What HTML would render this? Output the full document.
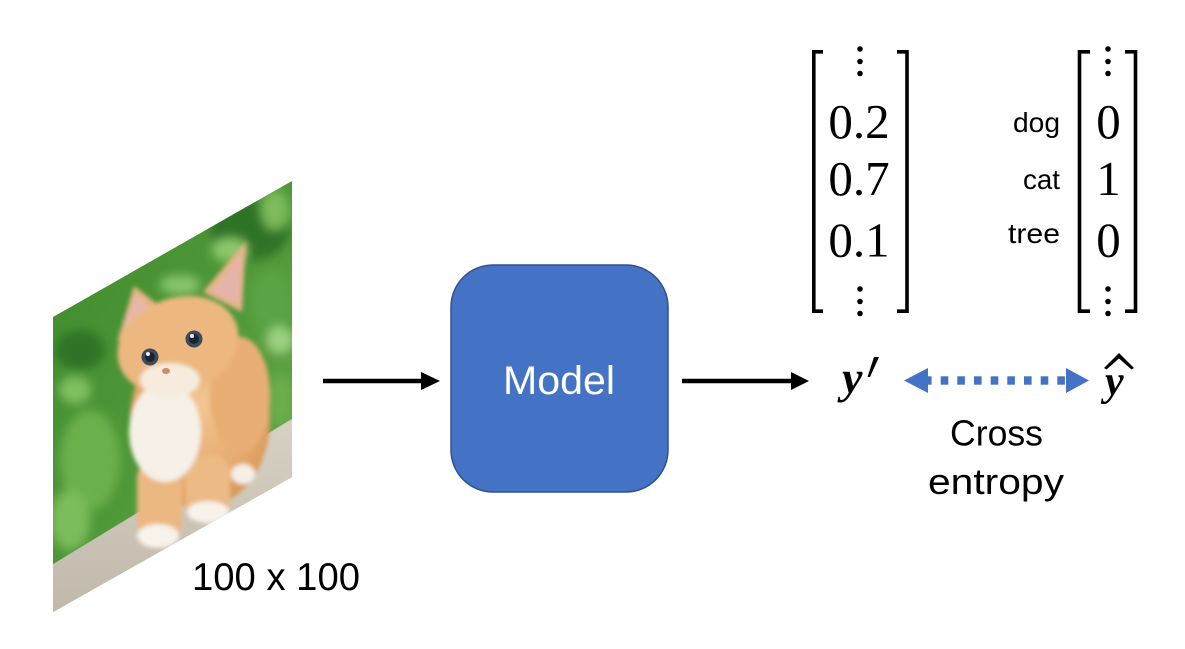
<!DOCTYPE html>
<html>
<head>
<meta charset="utf-8">
<style>
  html,body{margin:0;padding:0;background:#fff;}
  svg{display:block;}
</style>
</head>
<body>
<svg width="1185" height="649" viewBox="0 0 1185 649" xmlns="http://www.w3.org/2000/svg">
  <defs>
    <clipPath id="para">
      <polygon points="53,317 292,181 292,477 53,612"/>
    </clipPath>
    <linearGradient id="bg" x1="0" y1="0" x2="1" y2="1">
      <stop offset="0" stop-color="#3f8a2e"/>
      <stop offset="0.5" stop-color="#4f9838"/>
      <stop offset="1" stop-color="#6fae50"/>
    </linearGradient>
    <linearGradient id="plank" x1="0" y1="0" x2="0" y2="1">
      <stop offset="0" stop-color="#d8d2c6"/>
      <stop offset="1" stop-color="#bdb5a6"/>
    </linearGradient>
    <radialGradient id="fur" cx="0.5" cy="0.4" r="0.6">
      <stop offset="0" stop-color="#f2c692"/>
      <stop offset="0.7" stop-color="#e6aa6e"/>
      <stop offset="1" stop-color="#d89656"/>
    </radialGradient>
    <filter id="blur2" x="-20%" y="-20%" width="140%" height="140%">
      <feGaussianBlur stdDeviation="2"/>
    </filter>
    <filter id="blur5" x="-20%" y="-20%" width="140%" height="140%">
      <feGaussianBlur stdDeviation="5"/>
    </filter>
  </defs>

  <!-- Kitten image -->
  <g clip-path="url(#para)">
    <rect x="50" y="175" width="250" height="445" fill="url(#bg)"/>
    <g filter="url(#blur5)">
      <ellipse cx="250" cy="230" rx="40" ry="30" fill="#2f7326"/>
      <ellipse cx="230" cy="250" rx="18" ry="12" fill="#8cc86a"/>
      <ellipse cx="275" cy="210" rx="14" ry="20" fill="#7dbb5c"/>
      <ellipse cx="270" cy="300" rx="20" ry="30" fill="#5aa444"/>
      <ellipse cx="280" cy="340" rx="14" ry="14" fill="#9ccf80"/>
      <ellipse cx="180" cy="285" rx="20" ry="10" fill="#88c46a"/>
      <ellipse cx="80" cy="350" rx="25" ry="20" fill="#2f7326"/>
      <ellipse cx="75" cy="390" rx="16" ry="14" fill="#7fbf60"/>
      <ellipse cx="90" cy="460" rx="30" ry="50" fill="#6ab04c"/>
      <ellipse cx="70" cy="520" rx="20" ry="30" fill="#7cbc5c"/>
      <ellipse cx="280" cy="400" rx="14" ry="25" fill="#6aad4c"/>
    </g>
    <!-- plank -->
    <polygon points="40,572 300,414 300,640 40,640" fill="url(#plank)"/>
    <!-- kitten -->
    <g filter="url(#blur2)">
      <!-- body -->
      <ellipse cx="200" cy="420" rx="70" ry="88" fill="url(#fur)"/>
      <ellipse cx="240" cy="395" rx="30" ry="58" fill="#e8ae74"/>
      <!-- legs -->
      <rect x="137" y="460" width="45" height="82" rx="18" fill="#ebb882"/>
      <rect x="185" y="455" width="45" height="64" rx="18" fill="#ecba84"/>
      <!-- chest -->
      <ellipse cx="165" cy="432" rx="36" ry="50" fill="#f6f0e6"/>
      <!-- paws -->
      <ellipse cx="158" cy="536" rx="21" ry="12" fill="#f7f2ea"/>
      <ellipse cx="208" cy="512" rx="21" ry="11" fill="#f7f2ea"/>
      <ellipse cx="243" cy="474" rx="12" ry="10" fill="#f5efe6"/>
      <!-- ears -->
      <polygon points="117,342 134,286 162,308" fill="#e8b488"/>
      <polygon points="124,330 135,295 152,310" fill="#e6b8aa"/>
      <polygon points="203,292 246,241 242,312" fill="#e8b488"/>
      <polygon points="212,292 242,253 238,302" fill="#e4b4aa"/>
      <!-- head -->
      <ellipse cx="178" cy="345" rx="62" ry="47" fill="#ecb880" transform="rotate(-20 178 345)"/>
      <ellipse cx="170" cy="380" rx="30" ry="17" fill="#f6ebdd"/>
    </g>
    <!-- eyes -->
    <circle cx="150" cy="357" r="8.5" fill="#3c4a5a"/>
    <circle cx="150" cy="357" r="5" fill="#1c2430"/>
    <circle cx="148" cy="354" r="2" fill="#e8eef4"/>
    <circle cx="194" cy="339" r="8.5" fill="#3c4a5a"/>
    <circle cx="194" cy="339" r="5" fill="#1c2430"/>
    <circle cx="192" cy="336" r="2" fill="#e8eef4"/>
    <ellipse cx="166" cy="371" rx="4" ry="3" fill="#d08a70"/>
  </g>

  <!-- 100 x 100 -->
  <text x="192" y="590" font-family="Liberation Sans, sans-serif" font-size="39" textLength="168" lengthAdjust="spacingAndGlyphs" fill="#000">100 x 100</text>

  <!-- Arrow 1 -->
  <line x1="323" y1="381" x2="424" y2="381" stroke="#000" stroke-width="4.5"/>
  <polygon points="421,372 440,381 421,390" fill="#000"/>

  <!-- Model box -->
  <rect x="451" y="265" width="217" height="227" rx="42" ry="42" fill="#4472C4" stroke="#2F528F" stroke-width="1.5"/>
  <text x="503" y="394" font-family="Liberation Sans, sans-serif" font-size="40" textLength="112" lengthAdjust="spacingAndGlyphs" fill="#fff">Model</text>

  <!-- Arrow 2 -->
  <line x1="682" y1="381" x2="794" y2="381" stroke="#000" stroke-width="4.5"/>
  <polygon points="791,372 809,381 791,390" fill="#000"/>

  <!-- Left matrix -->
  <path d="M823,51.8 H813.8 V311.2 H823" fill="none" stroke="#000" stroke-width="3.6"/>
  <path d="M897,51.8 H907 V311.2 H897" fill="none" stroke="#000" stroke-width="3.6"/>
  <g fill="#000">
    <circle cx="860" cy="49" r="2.8"/>
    <circle cx="860" cy="61.5" r="2.8"/>
    <circle cx="860" cy="73.5" r="2.8"/>
    <circle cx="860" cy="289" r="2.8"/>
    <circle cx="860" cy="301.5" r="2.8"/>
    <circle cx="860" cy="313.5" r="2.8"/>
  </g>
  <g font-family="Liberation Serif, serif" font-size="49" fill="#000" text-anchor="middle">
    <text x="859" y="138">0.2</text>
    <text x="859" y="195">0.7</text>
    <text x="859" y="256.5">0.1</text>
  </g>

  <!-- Right matrix -->
  <path d="M1090,51.8 H1079.5 V311.2 H1090" fill="none" stroke="#000" stroke-width="3.6"/>
  <path d="M1125,51.8 H1135.5 V311.2 H1125" fill="none" stroke="#000" stroke-width="3.6"/>
  <g fill="#000">
    <circle cx="1108" cy="49" r="2.8"/>
    <circle cx="1108" cy="61.5" r="2.8"/>
    <circle cx="1108" cy="73.5" r="2.8"/>
    <circle cx="1108" cy="289" r="2.8"/>
    <circle cx="1108" cy="301.5" r="2.8"/>
    <circle cx="1108" cy="313.5" r="2.8"/>
  </g>
  <g font-family="Liberation Serif, serif" font-size="49" fill="#000" text-anchor="middle">
    <text x="1108.5" y="138">0</text>
    <text x="1108.5" y="195">1</text>
    <text x="1108.5" y="256.5">0</text>
  </g>
  <g font-family="Liberation Sans, sans-serif" font-size="28" fill="#000">
    <text x="1013" y="132" textLength="47" lengthAdjust="spacingAndGlyphs">dog</text>
    <text x="1023" y="189" textLength="37" lengthAdjust="spacingAndGlyphs">cat</text>
    <text x="1008" y="243" textLength="52" lengthAdjust="spacingAndGlyphs">tree</text>
  </g>

  <!-- y' -->
  <text x="842" y="393" font-family="Liberation Serif, serif" font-weight="bold" font-style="italic" font-size="46" fill="#000">y</text>
  <polygon points="874,357 879,357 870,377 867.5,377" fill="#000"/>

  <!-- dotted double arrow -->
  <polygon points="904,380.5 928,368 928,393" fill="#4472C4"/>
  <g fill="#4472C4">
    <rect x="924" y="376.3" width="7.6" height="8.4"/>
    <rect x="940.7" y="376.3" width="7.6" height="8.4"/>
    <rect x="957.3" y="376.3" width="7.6" height="8.4"/>
    <rect x="974" y="376.3" width="7.6" height="8.4"/>
    <rect x="990.7" y="376.3" width="7.6" height="8.4"/>
    <rect x="1007.3" y="376.3" width="7.6" height="8.4"/>
    <rect x="1024" y="376.3" width="7.6" height="8.4"/>
    <rect x="1040.7" y="376.3" width="7.6" height="8.4"/>
    <rect x="1057.3" y="376.3" width="7.6" height="8.4"/>
  </g>
  <polygon points="1066,368 1089,380.5 1066,393" fill="#4472C4"/>

  <!-- y hat -->
  <text x="1105" y="395" font-family="Liberation Serif, serif" font-weight="bold" font-style="italic" font-size="42" fill="#000">y</text>
  <polygon points="1104,368 1119,353 1134,368 1131.5,369.5 1119,358.5 1106.5,369.5" fill="#000"/>

  <!-- Cross entropy -->
  <text x="950" y="445.5" font-family="Liberation Sans, sans-serif" font-size="36" textLength="93" lengthAdjust="spacingAndGlyphs" fill="#000">Cross</text>
  <text x="928" y="494" font-family="Liberation Sans, sans-serif" font-size="36" textLength="136" lengthAdjust="spacingAndGlyphs" fill="#000">entropy</text>
</svg>
</body>
</html>
